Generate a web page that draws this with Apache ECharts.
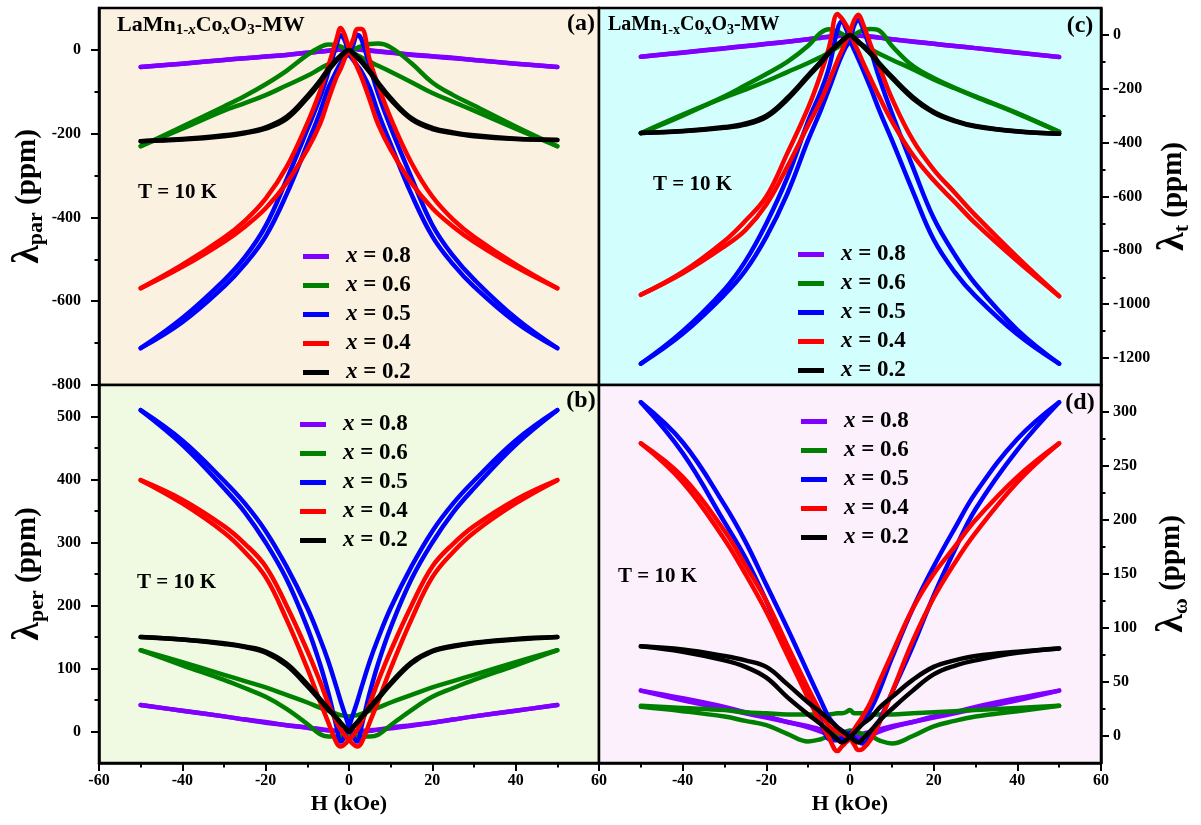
<!DOCTYPE html>
<html>
<head>
<meta charset="utf-8">
<title>LaMn1-xCoxO3-MW magnetostriction</title>
<script src="https://cdn.jsdelivr.net/npm/echarts@6.0.0/dist/echarts.min.js"></script>
<style>
  html, body { margin: 0; padding: 0; background: #fff; }
  #main { width: 1201px; height: 825px; }
</style>
</head>
<body>
<div id="main"></div>
<script>
// field values (kOe) shared by every branch
var H = [-50, -40, -30, -25, -20, -15, -10, -7, -5, -3, -2, -1, 0, 1, 2, 3, 5, 7, 10, 15, 20, 25, 30, 40, 50];

// compositions
var names = ['x = 0.8', 'x = 0.6', 'x = 0.5', 'x = 0.4', 'x = 0.2'];
var colors = ['#8000ff', '#008000', '#0000ff', '#ff0000', '#000000'];

// (a) lambda_par, two branches per sample
var a08dn = [-41, -33, -24, -20, -16, -12, -7, -4, -2, 0, 1, 2, 3, 2, 1, 0, -2, -4, -7, -12, -16, -20, -24, -33, -41];
var a08up = [-41, -33, -24, -20, -16, -12, -7, -4, -2, 0, 1, 2, 3, 3, 2, 1, -1, -3, -6, -11, -15, -19, -24, -33, -41];
var a06dn = [-230, -183, -135, -110, -82, -50, -12, 6, 13, 12, 8, 3, -3, -8, -13, -18, -28, -38, -52, -77, -103, -124, -145, -188, -230];
var a06up = [-230, -188, -145, -127, -108, -85, -62, -45, -34, -23, -17, -10, -4, 1, 5, 9, 14, 15, 6, -32, -78, -108, -133, -183, -230];
var a05dn = [-712, -640, -550, -495, -420, -310, -190, -115, -55, 12, 35, 22, -10, -24, -38, -52, -92, -150, -225, -345, -445, -512, -565, -650, -712];
var a05up = [-712, -650, -565, -512, -445, -345, -225, -150, -92, -50, -32, -18, -10, 12, 36, 25, -40, -105, -185, -305, -418, -492, -548, -640, -712];
var a04dn = [-569, -513, -448, -408, -355, -280, -175, -100, -40, 25, 52, 35, 2, -20, -42, -65, -120, -178, -238, -318, -378, -422, -458, -518, -569];
var a04up = [-569, -518, -458, -422, -378, -318, -238, -178, -120, -65, -45, -20, 2, 25, 50, 50, -25, -85, -163, -270, -350, -405, -446, -512, -569];
var a02dn = [-218, -214, -206, -199, -188, -165, -115, -78, -50, -26, -16, -7, 0, -7, -16, -26, -50, -78, -115, -163, -186, -197, -204, -212, -215];
var a02up = [-218, -213, -204, -197, -185, -160, -110, -74, -46, -23, -13, -5, 0, -9, -19, -29, -54, -82, -119, -166, -189, -199, -206, -213, -215];

// (b) lambda_per
var b08dn = [42, 33, 24, 19, 14, 10, 6, 3, 2, 1, 0, 0, 0, 0, 0, 1, 2, 3, 6, 10, 14, 19, 24, 33, 42];
var b08up = [42, 33, 24, 19, 15, 10, 6, 4, 2, 1, 1, 0, 0, 0, 0, 0, 1, 3, 5, 9, 14, 19, 24, 33, 42];
var b06dn = [129, 110, 90, 80, 70, 58, 46, 38, 33, 28, 26, 25, 24, 25, 26, 28, 33, 38, 46, 58, 70, 80, 90, 110, 129];
var b06up = [129, 105, 82, 69, 55, 36, 12, -4, -8, -8, -8, -8, -8, -8, -8, -8, -8, -5, 10, 34, 55, 69, 82, 105, 129];
var b05dn = [510, 455, 386, 348, 300, 242, 165, 108, 62, 8, -16, -8, 8, 28, 48, 70, 112, 148, 196, 262, 318, 362, 398, 462, 510];
var b05up = [510, 462, 398, 362, 318, 262, 196, 148, 112, 70, 48, 28, 8, -8, -16, 8, 62, 108, 165, 242, 300, 348, 386, 455, 510];
var b04dn = [399, 362, 316, 285, 245, 178, 100, 48, 15, -18, -24, -20, -13, -6, 3, 15, 45, 80, 128, 200, 262, 298, 326, 368, 399];
var b04up = [399, 368, 326, 298, 262, 200, 128, 80, 45, 15, 3, -6, -13, -20, -24, -18, 15, 48, 100, 178, 245, 285, 316, 362, 399];
var b02dn = [150, 146, 140, 135, 127, 108, 75, 52, 37, 22, 14, 7, 0, 7, 14, 22, 37, 52, 75, 108, 127, 135, 140, 146, 150];
var b02up = [150, 146, 139, 134, 125, 105, 72, 50, 35, 21, 13, 6, 0, 8, 15, 23, 39, 54, 77, 110, 128, 136, 141, 147, 150];

// (c) lambda_t
var c08dn = [-81, -65, -49, -41, -33, -25, -16, -10, -7, -4, -2, -1, 0, -1, -2, -4, -7, -10, -16, -25, -33, -41, -49, -66, -82];
var c08up = [-81, -66, -50, -42, -34, -25, -16, -11, -7, -4, -3, -1, 0, -1, -2, -3, -6, -10, -16, -24, -33, -41, -49, -65, -82];
var c06dn = [-365, -300, -228, -187, -145, -100, -40, 8, 21, 12, 4, -4, -12, -22, -30, -38, -54, -70, -92, -127, -165, -198, -230, -292, -360];
var c06up = [-365, -296, -232, -203, -172, -138, -104, -82, -66, -46, -35, -24, -12, 0, 10, 17, 22, 16, -40, -115, -160, -196, -228, -290, -360];
var c05dn = [-1221, -1100, -945, -840, -700, -530, -320, -210, -120, 20, 50, 25, -20, -55, -90, -125, -200, -280, -390, -580, -760, -880, -970, -1112, -1221];
var c05up = [-1221, -1110, -965, -875, -750, -590, -390, -280, -200, -115, -78, -45, -20, 35, 55, 28, -60, -160, -290, -490, -680, -815, -925, -1095, -1221];
var c04dn = [-965, -880, -765, -690, -600, -440, -270, -145, -45, 78, 62, 38, 11, -30, -62, -98, -165, -230, -320, -445, -540, -620, -700, -840, -970];
var c04up = [-965, -885, -785, -725, -630, -490, -335, -245, -172, -95, -60, -25, 11, 55, 75, 45, -40, -118, -235, -390, -500, -585, -670, -825, -970];
var c02dn = [-364, -358, -345, -333, -305, -240, -155, -105, -68, -38, -24, -11, 0, -11, -24, -38, -68, -105, -155, -230, -285, -318, -338, -358, -367];
var c02up = [-364, -357, -342, -329, -300, -234, -150, -100, -64, -35, -22, -9, 0, -13, -27, -41, -72, -110, -160, -236, -289, -320, -340, -359, -367];

// (d) lambda_omega
var d08dn = [42, 35, 27, 22, 18, 13, 8, 4, 1, -1, -1, -1, -1, 0, 1, 2, 4, 6, 9, 13, 17, 21, 25, 33, 42];
var d08up = [42, 33, 25, 21, 17, 13, 9, 6, 4, 2, 1, 0, -1, -1, -1, -1, 1, 4, 8, 13, 18, 22, 27, 35, 42];
var d06dn = [28, 26, 24, 22, 21, 20, 20, 20, 20, 21, 21, 22, 24, 21, 21, 21, 20, 20, 20, 21, 22, 23, 24, 26, 28];
var d06up = [27, 23, 18, 14, 10, 2, -5, -3, 0, 2, 3, 4, 5, 4, 3, 2, 0, -4, -7, 0, 9, 14, 18, 23, 28];
var d05dn = [309, 262, 198, 165, 125, 80, 38, 14, -3, -4, -2, 0, 2, 6, 10, 14, 25, 42, 72, 118, 157, 192, 225, 275, 309];
var d05up = [309, 272, 214, 180, 140, 100, 58, 33, 17, 8, 5, 3, 2, -2, -5, -7, 0, 14, 40, 83, 130, 172, 210, 265, 309];
var d04dn = [271, 235, 182, 150, 115, 75, 35, 12, -2, -14, -10, -6, -2, 6, 12, 18, 32, 50, 76, 118, 150, 175, 200, 240, 271];
var d04up = [271, 240, 190, 158, 125, 84, 44, 22, 9, 4, 2, 0, -2, -8, -13, -12, -3, 12, 40, 88, 128, 160, 188, 235, 271];
var d02dn = [83, 78, 70, 64, 54, 36, 20, 11, 4, -3, -6, -4, -1, 3, 7, 11, 17, 26, 36, 52, 64, 70, 74, 78, 81];
var d02up = [83, 80, 74, 70, 64, 48, 31, 22, 15, 8, 5, 2, -1, -4, -6, -3, 5, 14, 25, 42, 57, 65, 70, 77, 81];

// tick labels
var aTicks = [-800, -600, -400, -200, 0];
var aMinor = [-700, -500, -300, -100];
var bTicks = [0, 100, 200, 300, 400, 500];
var bMinor = [50, 150, 250, 350, 450];
var cTicks = [-1200, -1000, -800, -600, -400, -200, 0];
var cMinor = [-1100, -900, -700, -500, -300, -100];
var dTicks = [0, 50, 100, 150, 200, 250, 300];
var dMinor = [25, 75, 125, 175, 225, 275];

var serif = '"Liberation Serif", "Times New Roman", serif';

var loops = [
  [[a08dn, a08up], [a06dn, a06up], [a05dn, a05up], [a04dn, a04up], [a02dn, a02up]],
  [[b08dn, b08up], [b06dn, b06up], [b05dn, b05up], [b04dn, b04up], [b02dn, b02up]],
  [[c08dn, c08up], [c06dn, c06up], [c05dn, c05up], [c04dn, c04up], [c02dn, c02up]],
  [[d08dn, d08up], [d06dn, d06up], [d05dn, d05up], [d04dn, d04up], [d02dn, d02up]]
];

// panel layout: a (top left), b (bottom left), c (top right), d (bottom right)
var grids = [
  { left: 99, top: 8, width: 500, height: 377, backgroundColor: '#fbf1e1' },
  { left: 99, top: 385, width: 500, height: 378, backgroundColor: '#f0f9e1' },
  { left: 599, top: 8, width: 502, height: 377, backgroundColor: '#d2fefe' },
  { left: 599, top: 385, width: 502, height: 378, backgroundColor: '#fbf0fb' }
].map(function (g) {
  g.show = true;
  g.borderColor = '#000';
  g.borderWidth = 2.5;
  return g;
});

var labelFont = { fontFamily: serif, fontWeight: 'bold', fontSize: 16, color: '#000' };
function plainNum(v) { return String(v); }

function nameRich() {
  return {
    l: { fontFamily: serif, fontWeight: 'bold', fontSize: 38, lineHeight: 40, verticalAlign: 'middle', color: '#000' },
    s: { fontFamily: serif, fontWeight: 'bold', fontSize: 22, lineHeight: 15, verticalAlign: 'bottom', color: '#000' },
    p: { fontFamily: serif, fontWeight: 'bold', fontSize: 29, lineHeight: 40, verticalAlign: 'middle', color: '#000' }
  };
}

function xAxisFor(grid, bottom, hideMin) {
  if (!bottom) {
    return { gridIndex: grid, type: 'value', min: -60, max: 60, show: false };
  }
  return {
    gridIndex: grid, type: 'value', min: -60, max: 60, interval: 20,
    axisLine: { onZero: false, lineStyle: { color: '#000', width: 2.5 } },
    axisTick: { length: 8, lineStyle: { color: '#000', width: 2 } },
    minorTick: { show: true, splitNumber: 2, length: 4.5, lineStyle: { color: '#000', width: 2 } },
    axisLabel: Object.assign({ margin: 10, showMinLabel: !hideMin, formatter: plainNum }, labelFont),
    splitLine: { show: false },
    name: 'H (kOe)', nameLocation: 'middle', nameGap: 30,
    nameTextStyle: { fontFamily: serif, fontWeight: 'bold', fontSize: 22, color: '#000' }
  };
}

function yAxesFor(grid, pos, min, max, ticks, minor, sub, margin) {
  var main = {
    gridIndex: grid, type: 'value', position: pos, min: min, max: max,
    axisLine: { show: true, onZero: false, lineStyle: { color: '#000', width: 2.5 } },
    axisTick: { show: true, customValues: ticks, length: 8, lineStyle: { color: '#000', width: 2 } },
    axisLabel: Object.assign({ customValues: ticks, margin: margin, formatter: plainNum }, labelFont),
    splitLine: { show: false },
    name: '{l|λ}{s|' + sub + '}{p| (ppm)}',
    nameLocation: 'middle', nameRotate: 90, nameGap: 51,
    nameTextStyle: { rich: nameRich() }
  };
  var small = {
    gridIndex: grid, type: 'value', position: pos, min: min, max: max,
    axisLine: { show: false, onZero: false },
    axisTick: { show: true, customValues: minor, length: 4.5, lineStyle: { color: '#000', width: 2 } },
    axisLabel: { show: false },
    splitLine: { show: false }
  };
  return [main, small];
}

var xAxes = [xAxisFor(0, false), xAxisFor(1, true, false), xAxisFor(2, false), xAxisFor(3, true, true)];
var yAxes = [].concat(
  yAxesFor(0, 'left', -800, 100, aTicks, aMinor, 'par', 18),
  yAxesFor(1, 'left', -50, 550, bTicks, bMinor, 'per', 18),
  yAxesFor(2, 'right', -1300, 100, cTicks, cMinor, 't', 12),
  yAxesFor(3, 'right', -25, 325, dTicks, dMinor, 'ω', 12)
);

var series = [];
loops.forEach(function (panel, g) {
  panel.forEach(function (pair, k) {
    pair.forEach(function (vals) {
      series.push({
        type: 'line', name: names[k], xAxisIndex: g, yAxisIndex: g * 2,
        data: H.map(function (h, i) { return [h, vals[i]]; }),
        smooth: 0.4, showSymbol: false, silent: true,
        lineStyle: { color: colors[k], width: 4.5, cap: 'round', join: 'round' },
        itemStyle: { color: colors[k] },
        z: 2 + k
      });
    });
  });
});

function legendAt(left, top) {
  return {
    left: left, top: top, orient: 'vertical', data: names, selectedMode: false,
    icon: 'rect', itemWidth: 26, itemHeight: 5, itemGap: 6,
    formatter: function (n) { return '{g|}{i|x}{t|' + n.slice(1) + '}'; },
    textStyle: {
      fontFamily: serif, fontWeight: 'bold', fontSize: 23, color: '#000',
      rich: {
        g: { width: 12, lineHeight: 21 },
        i: { fontFamily: serif, fontWeight: 'bold', fontStyle: 'italic', fontSize: 23, lineHeight: 21, color: '#000' },
        t: { fontFamily: serif, fontWeight: 'bold', fontSize: 23, lineHeight: 21, color: '#000' }
      }
    }
  };
}

function formulaText(x, y, italicX, size, subSize) {
  var m = { fontFamily: serif, fontWeight: 'bold', fontSize: size, lineHeight: size + 4, verticalAlign: 'middle', fill: '#000' };
  var s = { fontFamily: serif, fontWeight: 'bold', fontSize: subSize, lineHeight: subSize - 3, verticalAlign: 'bottom', fill: '#000' };
  var si = Object.assign({}, s, { fontStyle: italicX ? 'italic' : 'normal' });
  return {
    type: 'text', x: x, y: y, z: 100,
    style: {
      text: '{m|LaMn}{s|1-}{si|x}{m|Co}{si|x}{m|O}{s|3}{m|-MW}',
      rich: { m: m, s: s, si: si },
      textVerticalAlign: 'middle', fill: '#000'
    }
  };
}

function plainText(str, x, y, size, align) {
  return {
    type: 'text', x: x, y: y, z: 100,
    style: {
      text: str, font: 'bold ' + size + 'px ' + serif, fill: '#000',
      textAlign: align || 'left', textVerticalAlign: 'middle'
    }
  };
}

var option = {
  animation: false,
  backgroundColor: '#ffffff',
  grid: grids,
  xAxis: xAxes,
  yAxis: yAxes,
  legend: [legendAt(298, 240), legendAt(295, 408), legendAt(793, 238), legendAt(796, 405)],
  series: series,
  graphic: [
    formulaText(117, 25, true, 22, 15),
    formulaText(608, 25, false, 20, 14),
    plainText('T = 10 K', 138, 193, 21),
    plainText('T = 10 K', 137, 583, 21),
    plainText('T = 10 K', 653, 185, 21),
    plainText('T = 10 K', 618, 577, 21),
    plainText('(a)', 581, 24, 24, 'center'),
    plainText('(b)', 581, 401, 24, 'center'),
    plainText('(c)', 1080, 26, 24, 'center'),
    plainText('(d)', 1080, 403, 24, 'center')
  ]
};

var chart = echarts.init(document.getElementById('main'), null, { renderer: 'canvas' });
chart.setOption(option);
</script>
</body>
</html>
